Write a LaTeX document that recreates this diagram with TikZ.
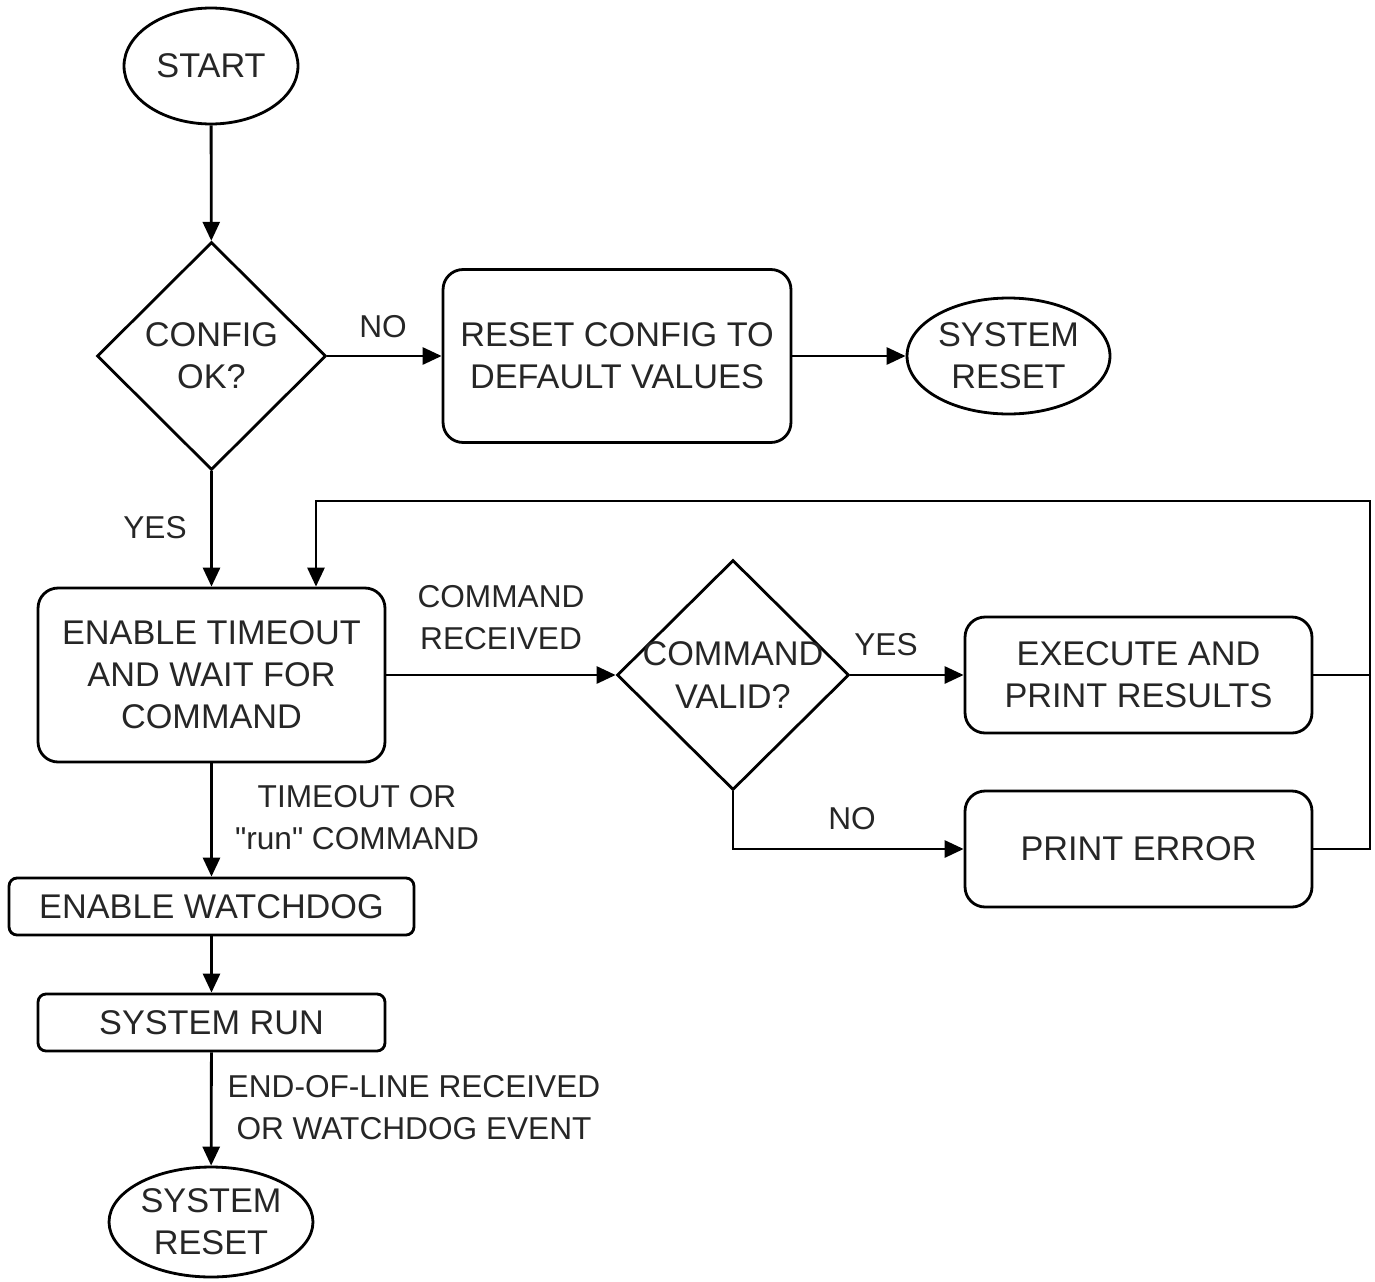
\documentclass[tikz,border=0pt]{standalone}
\usepackage{fontspec}
\setmainfont{Liberation Sans}[Ligatures=TeXOff]
\usetikzlibrary{shapes.geometric,arrows.meta,calc}
\begin{document}
\begin{tikzpicture}[x=0.02cm,y=-0.02cm,
  every node/.style={font=\fontsize{19.5}{24}\selectfont, align=center, text=black!85},
  line/.style={draw=black, line width=1.6pt},
  arr/.style={line, -{Triangle[length=0.38cm,width=0.34cm]}},
  bigbox/.style={line, rounded corners=0.4cm, inner sep=0pt},
  smallbox/.style={line, rounded corners=0.16cm, inner sep=0pt},
  oval/.style={line, ellipse, inner sep=0pt},
  dia/.style={line, diamond, inner sep=0pt},
  lbl/.style={inner sep=0pt, font=\fontsize{18}{22}\selectfont}]
\useasboundingbox (0,0) rectangle (1375,1281);

\node[oval, minimum width=3.48cm, minimum height=2.32cm] (st) at (211,66) {START};
\node[dia, minimum width=4.58cm, minimum height=4.56cm, label={[align=center]center:CONFIG\\OK?}] (co) at (211.5,356) {};
\node[bigbox, minimum width=6.96cm, minimum height=3.46cm] (rc) at (617,356) {RESET CONFIG TO\\DEFAULT VALUES};
\node[oval, minimum width=4.06cm, minimum height=2.32cm] (rs1) at (1008.5,356) {SYSTEM\\RESET};
\node[bigbox, minimum width=6.94cm, minimum height=3.48cm] (et) at (211.5,675) {ENABLE TIMEOUT\\AND WAIT FOR\\COMMAND};
\node[dia, minimum width=4.64cm, minimum height=4.6cm, label={[align=center]center:COMMAND\\VALID?}] (cv) at (733,675) {};
\node[bigbox, minimum width=6.94cm, minimum height=2.32cm] (ex) at (1138.5,675) {EXECUTE AND\\PRINT RESULTS};
\node[bigbox, minimum width=6.94cm, minimum height=2.32cm] (pe) at (1138.5,849) {PRINT ERROR};
\node[smallbox, minimum width=8.1cm, minimum height=1.14cm] (ew) at (211.5,906.5) {ENABLE WATCHDOG};
\node[smallbox, minimum width=6.94cm, minimum height=1.14cm] (sr) at (211.5,1022.5) {SYSTEM RUN};
\node[oval, minimum width=4.08cm, minimum height=2.2cm] (rs2) at (211,1222) {SYSTEM\\RESET};

\coordinate (rt) at (1370,501);

\draw[arr] (st) -- (co);
\draw[arr] (co) -- (rc);
\draw[arr] (rc) -- (rs1);
\draw[arr] (co) -- (et);
\draw[arr] (et.east) -- (cv.west);
\draw[arr] (cv.east) -- (ex.west);
\draw[arr] (cv.south) |- (pe.west);
\draw[line] (ex.east) -- (ex.east -| rt);
\draw[arr] (pe.east) -| (rt) -| ([xshift=2.09cm]et.north);
\draw[arr] (et) -- (ew);
\draw[arr] (ew) -- (sr);
\draw[arr] (sr) -- (rs2);

\node[lbl] (l1) at (383,327) {NO};
\node[lbl] (l2) at (155,528) {YES};
\node[lbl, font=\fontsize{18}{24}\selectfont] (l3) at (501,618) {COMMAND\\RECEIVED};
\node[lbl] (l4) at (886,645) {YES};
\node[lbl] (l5) at (852,819) {NO};
\node[lbl, font=\fontsize{18}{24}\selectfont] (l6) at (357,818) {TIMEOUT OR\\"run" COMMAND};
\node[lbl, font=\fontsize{18}{24}\selectfont] (l7) at (414,1108) {END-OF-LINE RECEIVED\\OR WATCHDOG EVENT};
\end{tikzpicture}
\end{document}
